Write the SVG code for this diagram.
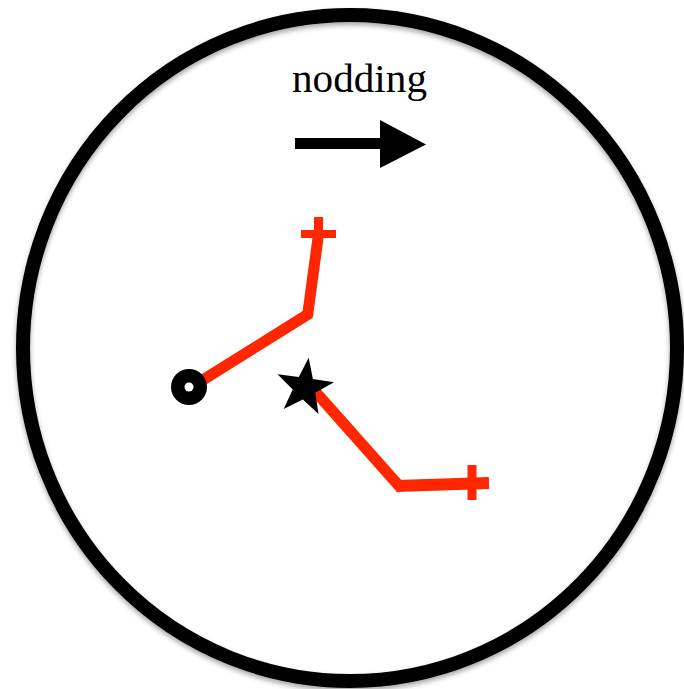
<svg xmlns="http://www.w3.org/2000/svg" width="684" height="689" viewBox="0 0 684 689">
<defs>
<filter id="sh" x="-10%" y="-10%" width="120%" height="120%">
<feDropShadow dx="0" dy="3" stdDeviation="2.5" flood-color="#000" flood-opacity="0.35"/>
</filter>
</defs>
<style>
.red{stroke:#ff2600;fill:none;stroke-linecap:butt}
.seg{stroke-width:11}
.tick{stroke-width:9}
</style>
<rect width="684" height="689" fill="#fff"/>
<g id="frame">
<ellipse cx="350" cy="348" rx="327" ry="333" fill="none" stroke="#000" stroke-width="14" filter="url(#sh)"/>
</g>
<g id="label">
<text x="292" y="92" font-family="'Liberation Serif', 'DejaVu Serif', serif" font-size="39" textLength="135" lengthAdjust="spacingAndGlyphs" fill="#000">nodding</text>
</g>
<g id="arrow">
<rect x="295" y="138" width="88" height="11" fill="#000"/>
<polygon points="380,120 426,144.5 380,168" fill="#000"/>
</g>
<g id="connectors">
<line class="red seg" x1="318" y1="238" x2="307.5" y2="316"/>
<line class="red seg" x1="310" y1="313" x2="190" y2="388"/>
<line class="red tick" x1="318.5" y1="217" x2="318.5" y2="240"/>
<line class="red" stroke-width="8" x1="301" y1="234" x2="336" y2="234"/>
<line class="red seg" x1="313" y1="389" x2="400" y2="487"/>
<line class="red" stroke-width="12" x1="396" y1="486" x2="489" y2="483"/>
<line class="red tick" x1="472" y1="465" x2="472" y2="500"/>
</g>
<g id="pivot">
<circle cx="189" cy="387" r="18" fill="#000"/>
<circle cx="189" cy="387" r="4.5" fill="#fff"/>
</g>
<g id="star">
<polygon fill="#000" transform="translate(304.5,387.5) rotate(8)" points="0,-30 7.1,-9.7 28.5,-9.3 11.4,3.7 17.6,24.3 0,12 -17.6,24.3 -11.4,3.7 -28.5,-9.3 -7.1,-9.7"/>
</g>
</svg>
